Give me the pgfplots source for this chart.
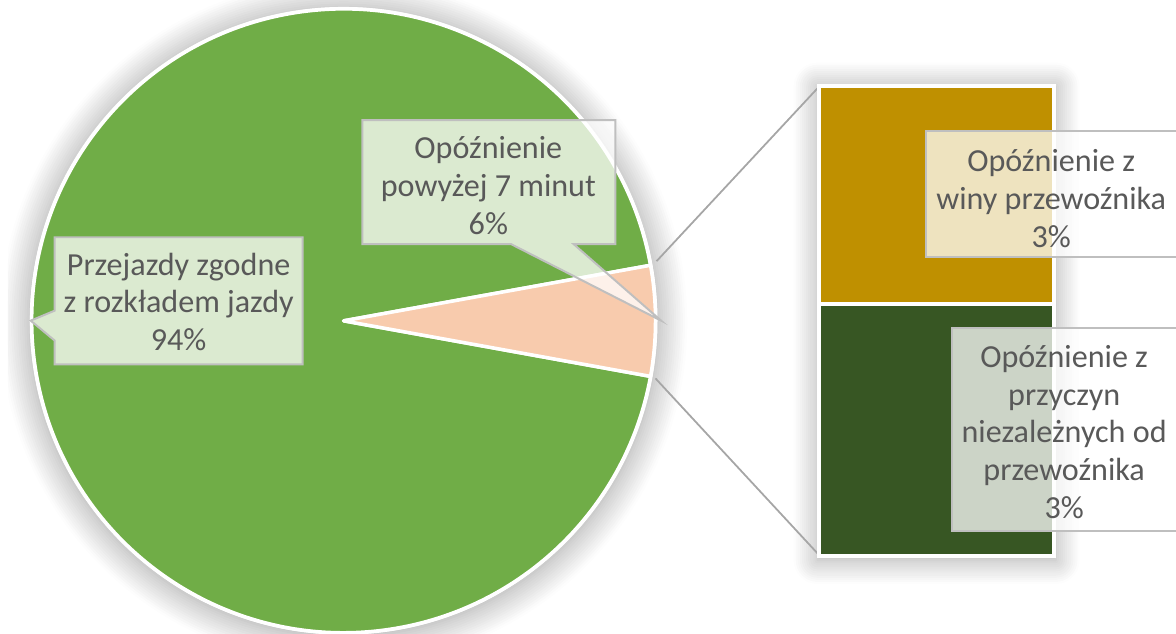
\documentclass[border=0pt]{standalone}
\usepackage{pgfplots}
\usepackage{pgfplotstable}
\pgfplotsset{compat=1.18}
\usepackage{fontspec}
\setmainfont{Carlito}
\usetikzlibrary{shadows.blur}

\definecolor{piegreen}{HTML}{70AD47}
\definecolor{piepink}{HTML}{F8CBAD}
\definecolor{bargold}{HTML}{BF9000}
\definecolor{bargreen}{HTML}{375623}
\definecolor{lbltext}{HTML}{595959}
\definecolor{lblborder}{HTML}{BFBFBF}
\definecolor{conn}{HTML}{A6A6A6}

% pie: on-time vs delayed (percent)
\pgfplotstableread{
part value
zgodne 94.3
opoznione 5.7
}\pietable
% bar of pie: split of the delayed part
\pgfplotstableread{
x wina niezal
0 2.64 3.06
}\bartable

\newcommand\lbl{\fontsize{9.2}{10.8}\selectfont}

\begin{document}
\pgfplotstablegetelem{1}{value}\of\pietable
\pgfmathsetmacro\halfang{3.6*\pgfplotsretval/2}
\begin{tikzpicture}
\useasboundingbox (0,0) rectangle (11.76cm,6.38cm);
\begin{axis}[
	at={(0,0)}, anchor=south west,
	scale only axis,
	width=11.76cm, height=6.38cm,
	xmin=0, xmax=1176, ymin=0, ymax=638,
	y dir=reverse,
	hide axis,
]
% soft shadows
\fill[white, blur shadow={shadow xshift=0pt, shadow yshift=-0.02cm, shadow blur radius=0.3cm, shadow blur steps=14, shadow opacity=40}]
	(axis cs:338,323) circle[radius=3.16cm];
\fill[white, blur shadow={shadow xshift=0pt, shadow yshift=-0.02cm, shadow blur radius=0.24cm, shadow blur steps=12, shadow opacity=35}]
	(axis cs:815,85) rectangle (axis cs:1055,562);
% pie slices
\filldraw[fill=piegreen, draw=white, line width=0.035cm, line join=round]
	(axis cs:338,323) -- ++(\halfang:3.14cm)
	arc[start angle=\halfang, end angle={360-\halfang}, radius=3.14cm] -- cycle;
\filldraw[fill=piepink, draw=white, line width=0.035cm, line join=round]
	(axis cs:338,323) -- ++(-\halfang:3.14cm)
	arc[start angle=-\halfang, end angle=\halfang, radius=3.14cm] -- cycle;
% connector lines
\draw[conn, line width=0.018cm] (axis cs:653,263) -- (axis cs:815,89);
\draw[conn, line width=0.018cm] (axis cs:652,381) -- (axis cs:815,557);
\end{axis}

\begin{axis}[
	at={(8.17cm,0.785cm)}, anchor=south west,
	scale only axis,
	width=2.36cm, height=4.725cm,
	xmin=-0.5, xmax=0.5, ymin=0, ymax=5.7,
	hide axis,
	ybar stacked,
	bar width=2.36cm,
	clip=false,
]
\addplot[fill=bargreen, draw=white, line width=0.04cm] table[x=x, y=niezal] {\bartable};
\addplot[fill=bargold, draw=white, line width=0.04cm] table[x=x, y=wina] {\bartable};
\end{axis}

% data labels, in pixel units of the reference
\begin{scope}[x=0.01cm, y=-0.01cm, shift={(0,6.38cm)}]
\tikzset{lblbox/.style={draw=lblborder, fill=white, fill opacity=0.75, line width=0.02cm},
	lbltxt/.style={text=lbltext, align=center, font=\lbl, inner sep=0pt}}
\path[lblbox] (47,239) -- (297,239) -- (297,367) -- (47,367) -- (47,343) -- (23,323) -- (47,313) -- cycle;
\node[lbltxt] at (172,304) {Przejazdy zgodne\\z rozkładem jazdy\\94\%};
\path[lblbox] (357,121) -- (612,121) -- (612,246) -- (570,246) -- (658,323) -- (507,246) -- (357,246) -- cycle;
\node[lbltxt] at (484,187) {Opóźnienie\\powyżej 7 minut\\6\%};
\path[lblbox] (925,132) rectangle (1180,259);
\node[lbltxt] at (1051,200) {Opóźnienie z\\winy przewoźnika\\3\%};
\path[lblbox] (951,330) rectangle (1180,535);
\node[lbltxt] at (1064,435) {Opóźnienie z\\przyczyn\\niezależnych od\\przewoźnika\\3\%};
\end{scope}
\end{tikzpicture}
\end{document}
